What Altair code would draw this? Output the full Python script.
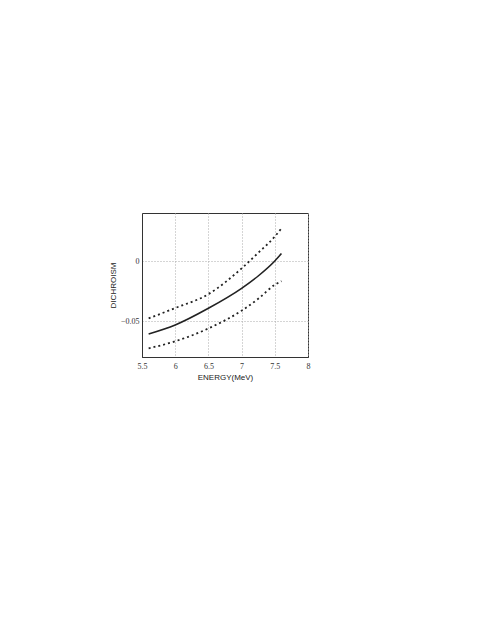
import altair as alt
import pandas as pd

energy = [5.6, 6.0, 6.5, 7.0, 7.25, 7.5, 7.6]
central = [-0.0608, -0.0533, -0.0394, -0.0228, -0.0125, 0.0, 0.0062]
upper = [-0.0478, -0.0392, -0.0276, -0.0062, 0.0068, 0.0204, 0.0272]
lower = [-0.0728, -0.0669, -0.0562, -0.0414, -0.0315, -0.0198, -0.0168]

rows = []
for name, vals in [("central", central), ("upper", upper), ("lower", lower)]:
    for e, v in zip(energy, vals):
        rows.append({"energy": e, "dichroism": v, "series": name})
df = pd.DataFrame(rows)

x = alt.X("energy:Q", scale=alt.Scale(domain=[5.5, 8], nice=False, zero=False),
          axis=alt.Axis(title="ENERGY(MeV)", values=[5.5, 6, 6.5, 7, 7.5, 8],
                        format=".1~f", labelFont="Liberation Serif", labelFontSize=8,
                        labelColor="#333", titleFont="Liberation Sans", titleFontSize=8,
                        titleFontWeight="normal", titleColor="#222", titlePadding=3,
                        ticks=False, labelPadding=5, domainColor="#333",
                        grid=True, gridDash=[1, 2], gridColor="#aaa",
                        labelFlush=False))
y = alt.Y("dichroism:Q", scale=alt.Scale(domain=[-0.08, 0.04], nice=False, zero=False),
          axis=alt.Axis(title="DICHROISM", values=[-0.05, 0], format="~g",
                        labelFont="Liberation Serif", labelFontSize=8, labelColor="#333",
                        titleFont="Liberation Sans", titleFontSize=8, titleFontWeight="normal",
                        titleColor="#222", titlePadding=3, ticks=False, labelPadding=3,
                        domainColor="#333", grid=True, gridDash=[1, 2], gridColor="#aaa"))

base = alt.Chart(df)
solid = base.transform_filter(alt.datum.series == "central").mark_line(
    color="#222", strokeWidth=1.6, interpolate="monotone").encode(x=x, y=y)
dotted = base.transform_filter(alt.datum.series != "central").mark_line(
    color="#222", strokeWidth=1.8, strokeDash=[2, 3], interpolate="monotone").encode(
    x=x, y=y, detail="series:N")

chart = (dotted + solid).properties(
    width=166, height=144,
    autosize=alt.AutoSizeParams(type="none"),
    padding={"left": 134, "top": 205, "right": 20, "bottom": 60},
).configure(background="white").configure_view(stroke="#333", strokeWidth=1)

chart.save("out.html", embed_options={"renderer": "svg", "actions": False})
